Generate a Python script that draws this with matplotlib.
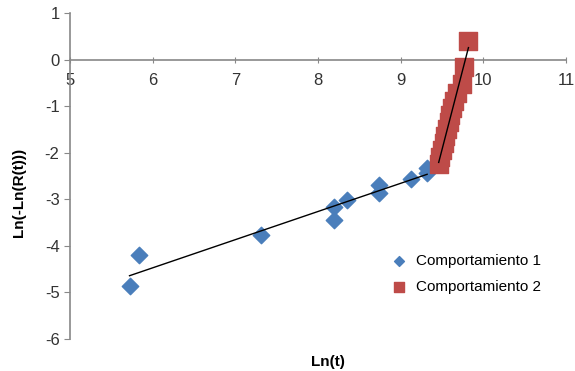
import numpy as np
import matplotlib.pyplot as plt

plt.rcParams['font.family'] = ['Liberation Sans', 'DejaVu Sans']
plt.rcParams['axes.unicode_minus'] = False

# Comportamiento 1 (Ln(t), Ln(-Ln(R(t))))
ln_t_1 = [5.72, 5.83, 7.31, 8.19, 8.19, 8.35, 8.74, 8.74, 9.12, 9.32, 9.32]
ln_r_1 = [-4.87, -4.20, -3.77, -3.45, -3.17, -3.02, -2.70, -2.87, -2.57, -2.43, -2.33]

# Comportamiento 2
ln_t_2 = [9.46, 9.48, 9.50, 9.52, 9.54, 9.56, 9.58, 9.60, 9.62, 9.64, 9.68, 9.74, 9.77, 9.82]
ln_r_2 = [-2.25, -2.10, -1.95, -1.80, -1.65, -1.50, -1.35, -1.20, -1.05, -0.90, -0.72, -0.52, -0.15, 0.40]

x_ticks = [5, 6, 7, 8, 9, 10, 11]
y_ticks = [1, 0, -1, -2, -3, -4, -5, -6]

fig = plt.figure(figsize=(5.75, 3.71), dpi=100)
ax = fig.add_axes([70 / 575, 1 - 339 / 371, 496 / 575, 326 / 371])

ax.scatter(ln_t_1, ln_r_1, marker='D', s=70, color='#4a7ebb', zorder=3, label='Comportamiento 1')
ax.scatter(ln_t_2, ln_r_2, marker='s', s=150, color='#be4b48', zorder=3, label='Comportamiento 2')

# linear trend lines for each group
for xs, ys in ((ln_t_1, ln_r_1), (ln_t_2, ln_r_2)):
    m, b = np.polyfit(xs, ys, 1)
    xx = np.array([min(xs), max(xs)])
    ax.plot(xx, m * xx + b, color='black', lw=1, zorder=4)

ax.set_xlim(5, 11)
ax.set_ylim(-6, 1)
ax.set_xticks(x_ticks)
ax.set_yticks(y_ticks)

ax.spines['top'].set_visible(False)
ax.spines['right'].set_visible(False)
ax.spines['bottom'].set_position(('data', 0))
for sp in ('left', 'bottom'):
    ax.spines[sp].set_color('#888888')
    ax.spines[sp].set_linewidth(1.2)

ax.tick_params(axis='both', colors='#888888', length=4, labelsize=12, labelcolor='#333333')
ax.tick_params(axis='x', direction='inout', pad=8)

ax.set_xlabel('Ln(t)', fontsize=11, fontweight='bold', labelpad=0)
ax.xaxis.set_label_coords(0.52, -0.05)
ax.set_ylabel('Ln(-Ln(R(t)))', fontsize=11, fontweight='bold')
ax.yaxis.set_label_coords(-0.088, 0.45)

ax.legend(loc='upper left', bbox_to_anchor=(0.62, 0.28), frameon=False, fontsize=11,
          handletextpad=0.1, markerscale=0.6, labelspacing=0.8, borderaxespad=0)

fig.savefig('out.png', dpi=100)
